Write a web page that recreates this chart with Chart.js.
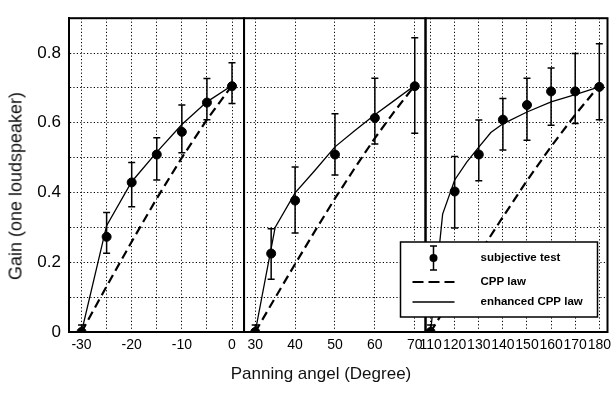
<!DOCTYPE html>
<html lang="en">
<head>
<meta charset="UTF-8">
<title>Gain vs panning angle</title>
<script src="https://cdn.jsdelivr.net/npm/chart.js"></script>
<style>
  body { margin: 0; background: #fff; font-family: "Liberation Sans", Arial, sans-serif; }
  .wrap { position: relative; width: 613px; height: 394px; }
  canvas { display: block; }
  #ytitle { position: absolute; left: 16px; top: 186px; transform: translate(-50%, -50%) rotate(-90deg); font-size: 18px; white-space: nowrap; color: #111; }
  #xtitle { position: absolute; left: 321px; top: 374px; transform: translate(-50%, -50%); font-size: 17px; white-space: nowrap; color: #111; }
</style>
</head>
<body>
<div class="wrap">
  <canvas id="gainChart" width="613" height="394"></canvas>
  <div id="ytitle">Gain (one loudspeaker)</div>
  <div id="xtitle">Panning angel (Degree)</div>
</div>
<script>
// panel 1: -30 .. 0
const angles1 = [-30, -25, -20, -15, -10, -5, 0];
const test1 = [0, 0.273, 0.429, 0.509, 0.574, 0.658, 0.705];
const low1 = [0, 0.226, 0.359, 0.436, 0.514, 0.609, 0.655];
const high1 = [0.02, 0.343, 0.486, 0.557, 0.651, 0.727, 0.772];
const cppAngles1 = [-30, -25, -20, -15, -10, -5, 0];
const cpp1 = [0, 0.131, 0.259, 0.383, 0.5, 0.609, 0.707];
const enhAngles1 = [-30, -25, -20, -15, -10, -5, 0];
const enh1 = [0, 0.305, 0.431, 0.516, 0.595, 0.66, 0.707];
const ticks1 = [-30, -25, -20, -15, -10, -5, 0];

// panel 2: 30 .. 70
const angles2 = [30, 34, 40, 50, 60, 70];
const test2 = [0, 0.225, 0.377, 0.509, 0.614, 0.705];
const low2 = [0, 0.151, 0.284, 0.45, 0.539, 0.57];
const high2 = [0.02, 0.296, 0.473, 0.626, 0.728, 0.844];
const cppAngles2 = [30, 35, 40, 45, 50, 55, 60, 65, 70];
const cpp2 = [0, 0.098, 0.195, 0.29, 0.383, 0.471, 0.556, 0.634, 0.707];
const enhAngles2 = [30, 35, 40, 45, 50, 55, 60, 65, 70];
const enh2 = [0, 0.3, 0.399, 0.464, 0.531, 0.578, 0.623, 0.665, 0.707];
const ticks2 = [30, 40, 50, 60, 70];

// panel 3: 110 .. 180
const angles3 = [110, 120, 130, 140, 150, 160, 170, 180];
const test3 = [0, 0.403, 0.509, 0.609, 0.651, 0.69, 0.69, 0.703];
const low3 = [0, 0.298, 0.434, 0.522, 0.55, 0.593, 0.598, 0.609];
const high3 = [0.02, 0.503, 0.608, 0.67, 0.728, 0.757, 0.799, 0.827];
const cppAngles3 = [110, 120, 130, 140, 150, 160, 170, 180];
const cpp3 = [0, 0.112, 0.223, 0.33, 0.434, 0.532, 0.623, 0.707];
const enhAngles3 = [110, 115, 120, 125, 130, 135, 140, 150, 160, 170, 180];
const enh3 = [0, 0.338, 0.436, 0.487, 0.53, 0.572, 0.597, 0.631, 0.66, 0.681, 0.703];
const ticks3 = [110, 120, 130, 140, 150, 160, 170, 180];

const legendLabels = ['subjective test', 'CPP law', 'enhanced CPP law'];

function pts(xs, ys) {
    return xs.map((x, i) => ({ x: x, y: ys[i] }));
}

function panelSets(axis, a, t, lo, hi, ca, c, ea, e) {
    return [
        { data: pts(a, t), xAxisID: axis, showLine: false, pointRadius: 4.5, pointHoverRadius: 4.5,
          backgroundColor: '#000', borderColor: '#000', errLow: lo, errHigh: hi },
        { data: pts(ca, c), xAxisID: axis, showLine: true, pointRadius: 0,
          borderColor: '#000', borderWidth: 2.2, borderDash: [9, 5] },
        { data: pts(ea, e), xAxisID: axis, showLine: true, pointRadius: 0,
          borderColor: '#000', borderWidth: 1.3 }
    ];
}

const dotted = { color: '#000', lineWidth: 1, drawTicks: false };
const borderDash = { display: true, color: '#000', width: 2, dash: [1.2, 2.2] };

function xScale(min, max, tickVals, weight) {
    return {
        type: 'linear', position: 'bottom', stack: 'panels', stackWeight: weight,
        min: min, max: max,
        grid: dotted,
        border: borderDash,
        afterBuildTicks: s => { s.ticks = tickVals.map(v => ({ value: v })); },
        ticks: {
            autoSkip: false, maxRotation: 0, padding: 5,
            color: '#000', font: { size: 14, family: '"Liberation Sans", Arial' },
            callback: v => (v % 10 === 0) ? String(v) : ''
        },
        afterFit: s => {
            s.height = 62;
            s.paddingLeft = 0;
            s.paddingRight = 0;
        }
    };
}

// error bars for the subjective test points
const errorBars = {
    id: 'errorBars',
    afterDatasetsDraw(chart) {
        const ctx = chart.ctx;
        const y = chart.scales.y;
        chart.data.datasets.forEach((ds, i) => {
            if (!ds.errLow) return;
            const meta = chart.getDatasetMeta(i);
            ctx.save();
            ctx.strokeStyle = '#000';
            ctx.lineWidth = 1.5;
            meta.data.forEach((p, j) => {
                const top = y.getPixelForValue(ds.errHigh[j]);
                const bot = y.getPixelForValue(ds.errLow[j]);
                ctx.beginPath();
                ctx.moveTo(p.x, top); ctx.lineTo(p.x, bot);
                ctx.moveTo(p.x - 3.5, top); ctx.lineTo(p.x + 3.5, top);
                ctx.moveTo(p.x - 3.5, bot); ctx.lineTo(p.x + 3.5, bot);
                ctx.stroke();
            });
            ctx.restore();
        });
    }
};

// solid frame round every panel
const panelFrames = {
    id: 'panelFrames',
    afterDatasetsDraw(chart) {
        const ctx = chart.ctx;
        const area = chart.chartArea;
        ctx.save();
        ctx.strokeStyle = '#000';
        ctx.lineWidth = 2;
        ['x1', 'x2', 'x3'].forEach(id => {
            const s = chart.scales[id];
            ctx.strokeRect(s.left, area.top, s.right - s.left, area.bottom - area.top);
        });
        ctx.restore();
    }
};

// boxed legend in the lower right
const boxLegend = {
    id: 'boxLegend',
    afterDraw(chart) {
        const ctx = chart.ctx;
        const area = chart.chartArea;
        const left = area.right - 207, top = area.bottom - 90;
        ctx.save();
        ctx.fillStyle = '#fff';
        ctx.fillRect(left, top, 197, 75);
        ctx.strokeStyle = '#000';
        ctx.lineWidth = 1.5;
        ctx.strokeRect(left, top, 197, 75);

        const rows = [top + 16, top + 40, top + 60];
        const mx = left + 33;
        ctx.beginPath();
        ctx.moveTo(mx, rows[0] - 12); ctx.lineTo(mx, rows[0] + 12);
        ctx.moveTo(mx - 3.5, rows[0] - 12); ctx.lineTo(mx + 3.5, rows[0] - 12);
        ctx.moveTo(mx - 3.5, rows[0] + 12); ctx.lineTo(mx + 3.5, rows[0] + 12);
        ctx.stroke();
        ctx.fillStyle = '#000';
        ctx.beginPath();
        ctx.arc(mx, rows[0], 4, 0, Math.PI * 2);
        ctx.fill();

        ctx.lineWidth = 2.2;
        ctx.setLineDash([11, 5]);
        ctx.beginPath();
        ctx.moveTo(left + 12, rows[1]); ctx.lineTo(left + 54, rows[1]);
        ctx.stroke();
        ctx.setLineDash([]);
        ctx.lineWidth = 1.3;
        ctx.beginPath();
        ctx.moveTo(left + 12, rows[2]); ctx.lineTo(left + 54, rows[2]);
        ctx.stroke();

        ctx.font = 'bold 11.5px "Liberation Sans", Arial';
        ctx.textBaseline = 'middle';
        legendLabels.forEach((t, i) => ctx.fillText(t, left + 80, rows[i]));
        ctx.restore();
    }
};

new Chart(document.getElementById('gainChart'), {
    type: 'scatter',
    data: {
        datasets: [].concat(
            panelSets('x1', angles1, test1, low1, high1, cppAngles1, cpp1, enhAngles1, enh1),
            panelSets('x2', angles2, test2, low2, high2, cppAngles2, cpp2, enhAngles2, enh2),
            panelSets('x3', angles3, test3, low3, high3, cppAngles3, cpp3, enhAngles3, enh3)
        )
    },
    options: {
        responsive: false,
        animation: false,
        layout: { padding: { top: 10, right: 1, left: 0, bottom: 0 } },
        plugins: { legend: { display: false }, tooltip: { enabled: false } },
        scales: {
            x1: xScale(-32.5, 2.4, ticks1, 176.5),
            x2: xScale(27.2, 72.7, ticks2, 183),
            x3: xScale(107.9, 183.4, ticks3, 183.5),
            y: {
                min: 0, max: 0.9,
                grid: dotted,
                border: borderDash,
                ticks: {
                    stepSize: 0.1, padding: 8, color: '#000',
                    font: { size: 17, family: '"Liberation Sans", Arial' },
                    callback: v => {
                        const k = Math.round(v * 10);
                        if (k % 2 !== 0 || k > 8) return '';
                        return k === 0 ? '0' : (k / 10).toFixed(1);
                    }
                },
                afterFit: s => { s.width = 69; }
            }
        }
    },
    plugins: [errorBars, panelFrames, boxLegend]
});
</script>
</body>
</html>
